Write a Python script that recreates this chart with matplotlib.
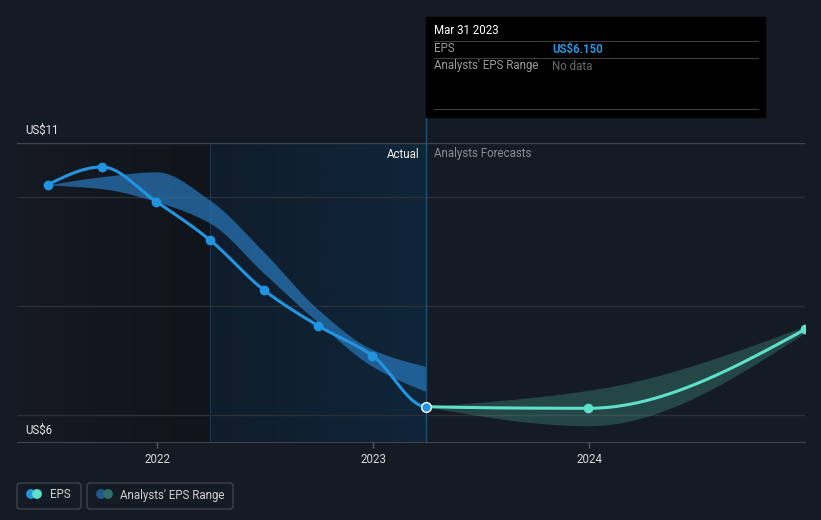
import matplotlib
matplotlib.use('Agg')
import numpy as np
import pandas as pd
import matplotlib.pyplot as plt
import matplotlib.dates as mdates
from matplotlib.patches import FancyBboxPatch, Rectangle, Circle

plt.rcParams['font.family'] = ['Roboto', 'DejaVu Sans']

# Data
eps_dates = ['2021-06-30', '2021-09-30', '2021-12-31', '2022-03-31',
             '2022-06-30', '2022-09-30', '2022-12-31', '2023-03-31']
eps_values = [10.23, 10.56, 9.92, 9.22, 8.30, 7.64, 7.09, 6.15]
past_range_low = [10.23, 10.16, 9.92, 9.53, 8.61, 7.70, 6.89, 6.43]
past_range_high = [10.23, 10.38, 10.47, 9.95, 9.00, 7.94, 7.20, 6.89]

fc_dates = ['2023-03-31', '2023-12-31', '2024-12-31']
fc_values = [6.15, 6.12, 7.57]
fc_low = [6.15, 5.80, 7.51]
fc_high = [6.15, 6.45, 7.63]

year_ticks = ['2022', '2023', '2024']
y_labels = {11: 'US$11', 6: 'US$6'}

BG = '#151b24'
BLUE = '#2394df'
TEAL = '#5ee0c8'


def monotone(x, y, n=400):
    # monotone cubic (like d3 curveMonotoneX), only used to draw smooth curves
    x = np.asarray(x, float)
    y = np.asarray(y, float)
    h = np.diff(x)
    d = np.diff(y) / h
    m = np.zeros_like(y)
    for k in range(1, len(y) - 1):
        if d[k - 1] * d[k] <= 0:
            m[k] = 0
        else:
            w1 = 2 * h[k] + h[k - 1]
            w2 = h[k] + 2 * h[k - 1]
            m[k] = (w1 + w2) / (w1 / d[k - 1] + w2 / d[k])
    m[0] = (3 * d[0] - m[1]) / 2 if len(y) > 2 else d[0]
    m[-1] = (3 * d[-1] - m[-2]) / 2 if len(y) > 2 else d[-1]
    xs = np.linspace(x[0], x[-1], n)
    idx = np.clip(np.searchsorted(x, xs) - 1, 0, len(x) - 2)
    t = (xs - x[idx]) / h[idx]
    h00 = 2 * t**3 - 3 * t**2 + 1
    h10 = t**3 - 2 * t**2 + t
    h01 = -2 * t**3 + 3 * t**2
    h11 = t**3 - t**2
    ys = h00 * y[idx] + h10 * h[idx] * m[idx] + h01 * y[idx + 1] + h11 * h[idx] * m[idx + 1]
    return xs, ys


def dnum(dates):
    return mdates.date2num(pd.to_datetime(dates))


ex = dnum(eps_dates)
fx = dnum(fc_dates)

fig = plt.figure(figsize=(8.21, 5.20), dpi=100, facecolor=BG)
ax = fig.add_axes([17 / 821, 78 / 520, 788 / 821, 299 / 520])
ax.set_facecolor(BG)

# x scale from pixel positions of the year ticks
x2022 = mdates.date2num(pd.Timestamp('2022-01-01'))
ppd = (373 - 157) / 365.0
xmin, xmax = x2022 - (157 - 17) / ppd, x2022 + (805 - 157) / ppd
ax.set_xlim(xmin, xmax)
ax.set_ylim(5.5, 11)

# shaded regions
grad = np.linspace(0, 1, 256).reshape(1, -1)
cmap_l = matplotlib.colors.LinearSegmentedColormap.from_list('l', ['#151a23', '#10141b'])
ax.imshow(grad, extent=[xmin, ex[3], 5.5, 11], aspect='auto', cmap=cmap_l, zorder=0.5)
cmap = matplotlib.colors.LinearSegmentedColormap.from_list('g', ['#0f1c2b', '#0f2639'])
ax.imshow(grad, extent=[ex[3], ex[-1], 5.5, 11], aspect='auto', cmap=cmap, zorder=0.5)
ax.axvline(ex[3], color='#1c3550', lw=0.8, zorder=1)

# gridlines
for v in [10, 8, 6]:
    ax.axhline(v, color='#2a2f38', lw=1, zorder=1)
ax.axhline(11, color='#3d424b', lw=1, zorder=1)

# past analyst range
bx, bl = monotone(ex, past_range_low)
_, bh = monotone(ex, past_range_high)
ax.fill_between(bx, bl, bh, color='#2878bb', alpha=0.7, lw=0, zorder=2)

# forecast range
fxs, fl = monotone(fx, fc_low)
_, fh = monotone(fx, fc_high)
ax.fill_between(fxs, fl, fh, color=TEAL, alpha=0.22, lw=0, zorder=2)

# EPS line: one smooth curve through actual + forecast, coloured by part
all_x = np.concatenate([ex, fx[1:]])
all_y = np.concatenate([eps_values, fc_values[1:]])
cx, cy = monotone(all_x, all_y, n=800)
past = cx <= ex[-1]
ax.plot(cx[past], cy[past], color=BLUE, lw=2.2, zorder=3)
ax.plot(cx[~past], cy[~past], color=TEAL, lw=2.2, zorder=3)
ax.plot(ex[:-1], eps_values[:-1], 'o', color=BLUE, ms=6, zorder=4)
ax.plot(fx[1:], fc_values[1:], 'o', color=TEAL, ms=6, zorder=4)
ax.plot(ex[-1], eps_values[-1], 'o', color=BLUE, ms=7, mec='white', mew=1, zorder=5)

# vertical line at last actual
ax.plot([ex[-1], ex[-1]], [5.5, 11.48], color='#1f4f78', lw=1, clip_on=False, zorder=2)

ax.set_xticks(dnum([y + '-01-01' for y in year_ticks]))
ax.set_xticklabels(year_ticks)
ax.tick_params(axis='x', colors='#555a63', labelcolor='#d8d8d8', length=4, width=1,
               labelsize=8.3, pad=4)
ax.set_yticks([])
for s in ['top', 'left', 'right']:
    ax.spines[s].set_visible(False)
ax.spines['bottom'].set_color('#3d424b')

# overlay in pixel coordinates
ov = fig.add_axes([0, 0, 1, 1], zorder=10)
ov.set_xlim(0, 821)
ov.set_ylim(520, 0)
ov.axis('off')
ov.patch.set_alpha(0)

for v, lab in y_labels.items():
    ypix = 130 if v == 11 else 430
    ov.text(25, ypix, lab, color='#e6e6e6', fontsize=8.3, va='center', ha='left')

ov.text(419, 154, 'Actual', color='#f0f0f0', fontsize=8.3, va='center', ha='right')
ov.text(434, 154, 'Analysts Forecasts', color='#8a8d93', fontsize=8.3, va='center', ha='left')

# tooltip
ov.add_patch(Rectangle((426, 17), 339, 100, color='black', zorder=1))
ov.text(434, 31, 'Mar 31 2023', color='white', fontsize=8.3, va='center', zorder=2)
for yy in [41, 58, 109]:
    ov.plot([434, 758], [yy, yy], color='#3c3c3c', lw=0.8, zorder=2)
ov.text(434, 49, 'EPS', color='#9b9b9b', fontsize=8.3, va='center', zorder=2)
ov.text(552, 49, 'US$6.150', color=BLUE, fontsize=8.3, va='center', fontweight='bold', zorder=2)
ov.text(434, 66, "Analysts' EPS Range", color='#9b9b9b', fontsize=8.3, va='center', zorder=2)
ov.text(552, 66, 'No data', color='#6b6b6b', fontsize=8.3, va='center', zorder=2)

# legend buttons
ov.add_patch(FancyBboxPatch((17, 483), 64, 26, boxstyle='round,pad=0,rounding_size=3',
                            fc='none', ec='#3d424b', lw=1))
ov.add_patch(Circle((31, 494), 4.2, color=BLUE))
ov.add_patch(Circle((37, 494), 4.2, color=TEAL))
ov.text(50, 495, 'EPS', color='#d0d0d0', fontsize=8.3, va='center')

ov.add_patch(FancyBboxPatch((87, 483), 146, 26, boxstyle='round,pad=0,rounding_size=3',
                            fc='none', ec='#3d424b', lw=1))
ov.add_patch(Circle((101, 494), 4.2, color='#1f5a8a'))
ov.add_patch(Circle((108, 494), 4.2, color='#2e6e68'))
ov.text(120, 495, "Analysts' EPS Range", color='#d0d0d0', fontsize=8.3, va='center')

fig.savefig('out.png', dpi=100, facecolor=BG)
